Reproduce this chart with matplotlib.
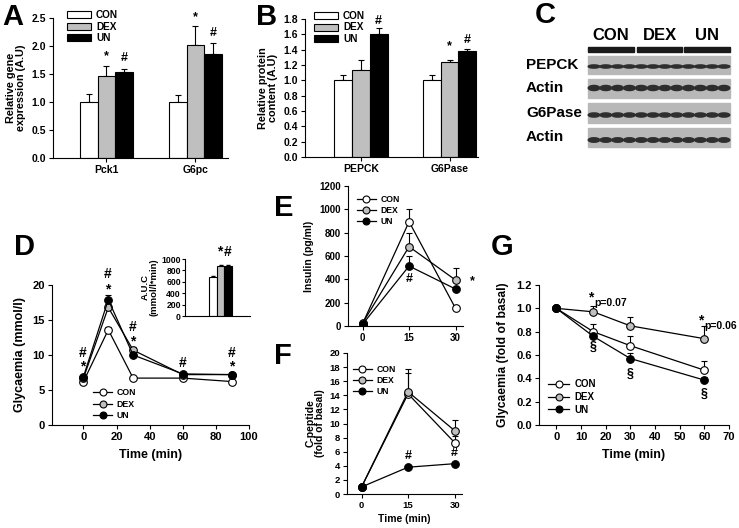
import matplotlib
matplotlib.use('Agg')
import matplotlib.pyplot as plt
from matplotlib.patches import Rectangle, Ellipse
from matplotlib.lines import Line2D
import numpy as np

plt.rcParams['font.family'] = ['Liberation Sans', 'DejaVu Sans']
plt.rcParams['font.weight'] = 'bold'
plt.rcParams['axes.labelweight'] = 'bold'
plt.rcParams['axes.linewidth'] = 0.8

groups = ['CON', 'DEX', 'UN']
fills = ['white', '#bfbfbf', 'black']

# A - gene expression
genes = ['Pck1', 'G6pc']
gene_con = [1.0, 1.0]; gene_dex = [1.46, 2.01]; gene_un = [1.53, 1.85]
gene_con_err = [0.14, 0.12]; gene_dex_err = [0.19, 0.35]; gene_un_err = [0.06, 0.20]

# B - protein content
proteins = ['PEPCK', 'G6Pase']
prot_con = [1.0, 1.0]; prot_dex = [1.14, 1.24]; prot_un = [1.60, 1.38]
prot_con_err = [0.07, 0.07]; prot_dex_err = [0.13, 0.03]; prot_un_err = [0.08, 0.03]

# C - blot
blot_rows = ['PEPCK', 'Actin', 'G6Pase', 'Actin']
lanes_per_group = 4

# D - glucose tolerance
t_gtt = [0, 15, 30, 60, 90]
gtt_con = [6.2, 13.6, 6.7, 6.7, 6.2]
gtt_dex = [6.7, 16.8, 10.7, 7.2, 7.2]
gtt_un = [6.9, 17.9, 10.0, 7.3, 7.2]
gtt_con_err = [0.2, 0.4, 0.2, 0.2, 0.2]
gtt_dex_err = [0.3, 0.5, 0.5, 0.2, 0.2]
gtt_un_err = [0.3, 0.7, 0.3, 0.2, 0.2]
auc = [690, 870, 870]
auc_err = [15, 20, 20]

# E - insulin
t_ins = [0, 15, 30]
ins_con = [20, 894, 151]; ins_dex = [25, 680, 394]; ins_un = [15, 514, 317]
ins_con_err = [5, 110, 20]; ins_dex_err = [5, 120, 100]; ins_un_err = [5, 90, 20]

# F - C-peptide
cpep_con = [1.0, 14.2, 7.3]; cpep_dex = [1.0, 14.5, 9.0]; cpep_un = [1.0, 3.8, 4.3]
cpep_con_err = [0, 3.0, 0.9]; cpep_dex_err = [0, 3.2, 1.5]; cpep_un_err = [0, 0.2, 0.2]

# G - insulin tolerance
t_itt = [0, 15, 30, 60]
itt_con = [1.0, 0.80, 0.68, 0.47]
itt_dex = [1.0, 0.97, 0.85, 0.74]
itt_un = [1.0, 0.76, 0.57, 0.385]
itt_con_err = [0, 0.07, 0.08, 0.08]
itt_dex_err = [0, 0.05, 0.08, 0.11]
itt_un_err = [0, 0.03, 0.05, 0.03]

W, H = 739, 528
fig = plt.figure(figsize=(W/100, H/100), dpi=100)

def px(l, t, r, b):
    return [l/W, 1-b/H, (r-l)/W, (b-t)/H]

def fxy(x, y):
    return (x/W, 1-y/H)

def style(ax, fs):
    ax.spines['top'].set_visible(False); ax.spines['right'].set_visible(False)
    ax.tick_params(labelsize=fs, width=0.8, length=3, pad=2)

def bar_panel(ax, cats, means, errs):
    x = np.arange(1, len(cats)+1)
    for k, (m, e, c) in enumerate(zip(means, errs, fills)):
        xs = x + (k-1)*0.2
        ax.bar(xs, m, 0.2, color=c, edgecolor='black', linewidth=0.8, zorder=2)
        ax.errorbar(xs, m, yerr=[np.zeros(len(m)), e], fmt='none', ecolor='black', elinewidth=0.8, capsize=2.5, capthick=0.8, zorder=1)
    ax.set_xticks(x); ax.set_xticklabels(cats)
    ax.tick_params(axis='x', length=0, pad=5)

def line_panel(ax, t, ys, errs, ms=5.5):
    for y, e, fc in zip(ys, errs, fills):
        ax.errorbar(t, y, yerr=[np.zeros(len(e)), e], color='black', lw=0.9, marker='o', ms=ms, mfc=fc, mec='black',
                    mew=0.8, capsize=2, elinewidth=0.8, capthick=0.8)

def line_legend(ax, x, y, fs, spacing=0.3):
    hs = [Line2D([], [], color='black', lw=0.9, marker='o', ms=5, mfc=c, mec='black', mew=0.8) for c in fills]
    ax.legend(hs, groups, loc='upper left', bbox_to_anchor=fxy(x, y), bbox_transform=fig.transFigure, frameon=False,
              fontsize=fs, handlelength=2.2, handletextpad=0.5, labelspacing=spacing, borderpad=0, borderaxespad=0)

def bar_legend(ax, x, y, fs):
    hs = [Rectangle((0, 0), 1, 1, facecolor=c, edgecolor='black', lw=0.8) for c in fills]
    ax.legend(hs, groups, loc='upper left', bbox_to_anchor=fxy(x, y), bbox_transform=fig.transFigure, frameon=False,
              fontsize=fs, handlelength=2.4, handleheight=0.7, handletextpad=0.5, labelspacing=0.15, borderpad=0, borderaxespad=0)

def mark(ax, x, y, s, fs=9):
    ax.text(x, y, s, ha='center', va='center', fontsize=fs, fontweight='bold', clip_on=False)

def letter(x, y, s):
    fig.text(*fxy(x, y), s, fontsize=21, fontweight='bold', ha='left', va='top')

# ---- A
axA = fig.add_axes(px(53, 18, 228, 158))
bar_panel(axA, genes, [gene_con, gene_dex, gene_un], [gene_con_err, gene_dex_err, gene_un_err])
axA.set_xlim(0.4, 2.365); axA.set_ylim(0, 2.5); axA.set_yticks(np.arange(0, 2.51, 0.5))
style(axA, 7.5)
axA.set_ylabel('Relative gene\nexpression (A.U)', fontsize=7.8, labelpad=4, linespacing=1.0)
bar_legend(axA, 67, 10, 7.2)
mark(axA, 1.0, 1.82, '*'); mark(axA, 1.2, 1.78, '#')
mark(axA, 2.0, 2.52, '*'); mark(axA, 2.2, 2.23, '#')
letter(2, 3, 'A')

# ---- B
axB = fig.add_axes(px(305, 19, 478, 157))
bar_panel(axB, proteins, [prot_con, prot_dex, prot_un], [prot_con_err, prot_dex_err, prot_un_err])
axB.set_xlim(0.37, 2.32); axB.set_ylim(0, 1.8); axB.set_yticks(np.arange(0, 1.81, 0.2))
axB.set_yticklabels([f'{v:.1f}' for v in np.arange(0, 1.81, 0.2)])
style(axB, 7.5)
axB.set_ylabel('Relative protein\ncontent (A.U)', fontsize=7.8, labelpad=4, linespacing=1.0)
bar_legend(axB, 314, 11, 7.2)
mark(axB, 1.2, 1.78, '#')
mark(axB, 2.0, 1.45, '*'); mark(axB, 2.2, 1.52, '#')
letter(256, 3, 'B')

# ---- C (western blot)
axC = fig.add_axes(px(480, 0, 739, 180))
axC.set_xlim(480, 739); axC.set_ylim(180, 0); axC.axis('off')
seg = [(588, 634), (637, 682), (684, 730)]
for (a, b), g in zip(seg, groups):
    axC.add_patch(Rectangle((a, 47), b-a, 5, color='#1a1a1a'))
    axC.text((a+b)/2, 35, g, ha='center', va='center', fontsize=12, fontweight='bold')
rows_y = [(56, 74, 66.5, 2.0), (79, 98, 88, 3.2), (103, 123, 115, 2.6), (128, 147, 140, 2.8)]
lane_x = np.linspace(594, 724, 3*lanes_per_group)
for name, (t, b, yc, bh) in zip(blot_rows, rows_y):
    axC.add_patch(Rectangle((588, t), 142, b-t, color='#b8b8b8'))
    for xc in lane_x:
        axC.add_patch(Ellipse((xc, yc), 11.5, bh*1.6, color='#2e2e2e'))
    axC.text(526, (t+b)/2, name, ha='left', va='center', fontsize=11, fontweight='bold')
letter(535, 1, 'C')

# ---- D
axD = fig.add_axes(px(52, 285, 249, 425))
line_panel(axD, t_gtt, [gtt_con, gtt_dex, gtt_un], [gtt_con_err, gtt_dex_err, gtt_un_err])
axD.set_xlim(-19, 100); axD.set_ylim(0, 20)
axD.set_xticks(range(0, 101, 20)); axD.set_yticks(range(0, 21, 5))
style(axD, 8)
axD.set_xlabel('Time (min)', fontsize=9, labelpad=5)
axD.set_ylabel('Glycaemia (mmol/l)', fontsize=9, labelpad=5)
line_legend(axD, 93, 388, 6.3)
for x, yh, ys in [(0, 10.3, 8.4), (15, 21.6, 19.4), (30, 14.0, 11.9), (90, 10.3, 8.4)]:
    mark(axD, x-0.5, yh, '#', 10); mark(axD, x-0.5, ys, '*', 10)
mark(axD, 60, 8.9, '#', 10)
letter(14, 233, 'D')

axI = fig.add_axes(px(185, 259, 250, 316))
axI.bar([1, 2, 3], auc, 1, color=fills, edgecolor='black', linewidth=0.8, zorder=2)
axI.errorbar([1, 2, 3], auc, yerr=[np.zeros(3), auc_err], fmt='none', ecolor='black', elinewidth=0.8, capsize=1.5, zorder=1)
axI.set_xlim(-2.7, 5.9); axI.set_ylim(0, 1000); axI.set_yticks(range(0, 1001, 200)); axI.set_xticks([])
style(axI, 6.2)
axI.tick_params(axis='y', length=2, pad=1)
axI.set_ylabel('A.U.C\n(mmol/l*min)', fontsize=6.8, labelpad=2, linespacing=1.0)
mark(axI, 1.9, 1130, '*', 10); mark(axI, 3.0, 1130, '#', 10)

# ---- E
axE = fig.add_axes(px(348, 186, 463, 326))
line_panel(axE, t_ins, [ins_con, ins_dex, ins_un], [ins_con_err, ins_dex_err, ins_un_err])
axE.set_xlim(-4.7, 32.4); axE.set_ylim(0, 1200)
axE.set_xticks([0, 15, 30]); axE.set_yticks(range(0, 1201, 200))
style(axE, 7)
axE.set_ylabel('Insulin (pg/ml)', fontsize=7.5, labelpad=4)
line_legend(axE, 357, 195, 6.2, 0.25)
mark(axE, 15, 400, '#', 9); mark(axE, 35.5, 380, '*', 9)
letter(274, 194, 'E')

# ---- F
axF = fig.add_axes(px(347, 353, 462, 494))
line_panel(axF, t_ins, [cpep_con, cpep_dex, cpep_un], [cpep_con_err, cpep_dex_err, cpep_un_err])
axF.set_xlim(-4.7, 32.4); axF.set_ylim(0, 20)
axF.set_xticks([0, 15, 30]); axF.set_yticks(range(0, 21, 2))
style(axF, 6.8)
axF.set_xlabel('Time (min)', fontsize=7.5, labelpad=3)
axF.set_ylabel('C-peptide\n(fold of basal)', fontsize=7.5, labelpad=3, linespacing=1.0)
line_legend(axF, 353, 365, 6.2, 0.25)
mark(axF, 15, 5.4, '#', 9); mark(axF, 30, 5.8, '#', 9)
letter(274, 342, 'F')

# ---- G
axG = fig.add_axes(px(539, 285, 729, 425))
line_panel(axG, t_itt, [itt_con, itt_dex, itt_un], [itt_con_err, itt_dex_err, itt_un_err])
axG.set_xlim(-7, 70); axG.set_ylim(0, 1.2)
axG.set_xticks(range(0, 71, 10)); axG.set_yticks(np.arange(0, 1.21, 0.2))
axG.set_yticklabels([f'{v:.1f}' for v in np.arange(0, 1.21, 0.2)])
style(axG, 8)
axG.set_xlabel('Time (min)', fontsize=9, labelpad=5)
axG.set_ylabel('Glycaemia (fold of basal)', fontsize=8.7, labelpad=5)
line_legend(axG, 548, 379, 7, 0.3)
mark(axG, 14, 1.09, '*', 10); axG.text(15.5, 1.05, 'p=0.07', fontsize=7.5, va='center', clip_on=False)
mark(axG, 58.5, 0.90, '*', 10); axG.text(60, 0.85, 'p=0.06', fontsize=7.5, va='center', clip_on=False)
for x, y in [(15, 0.67), (30, 0.44), (60, 0.27)]:
    mark(axG, x, y, '§', 9)
letter(491, 233, 'G')

fig.savefig('out.png', dpi=100, facecolor='white')
